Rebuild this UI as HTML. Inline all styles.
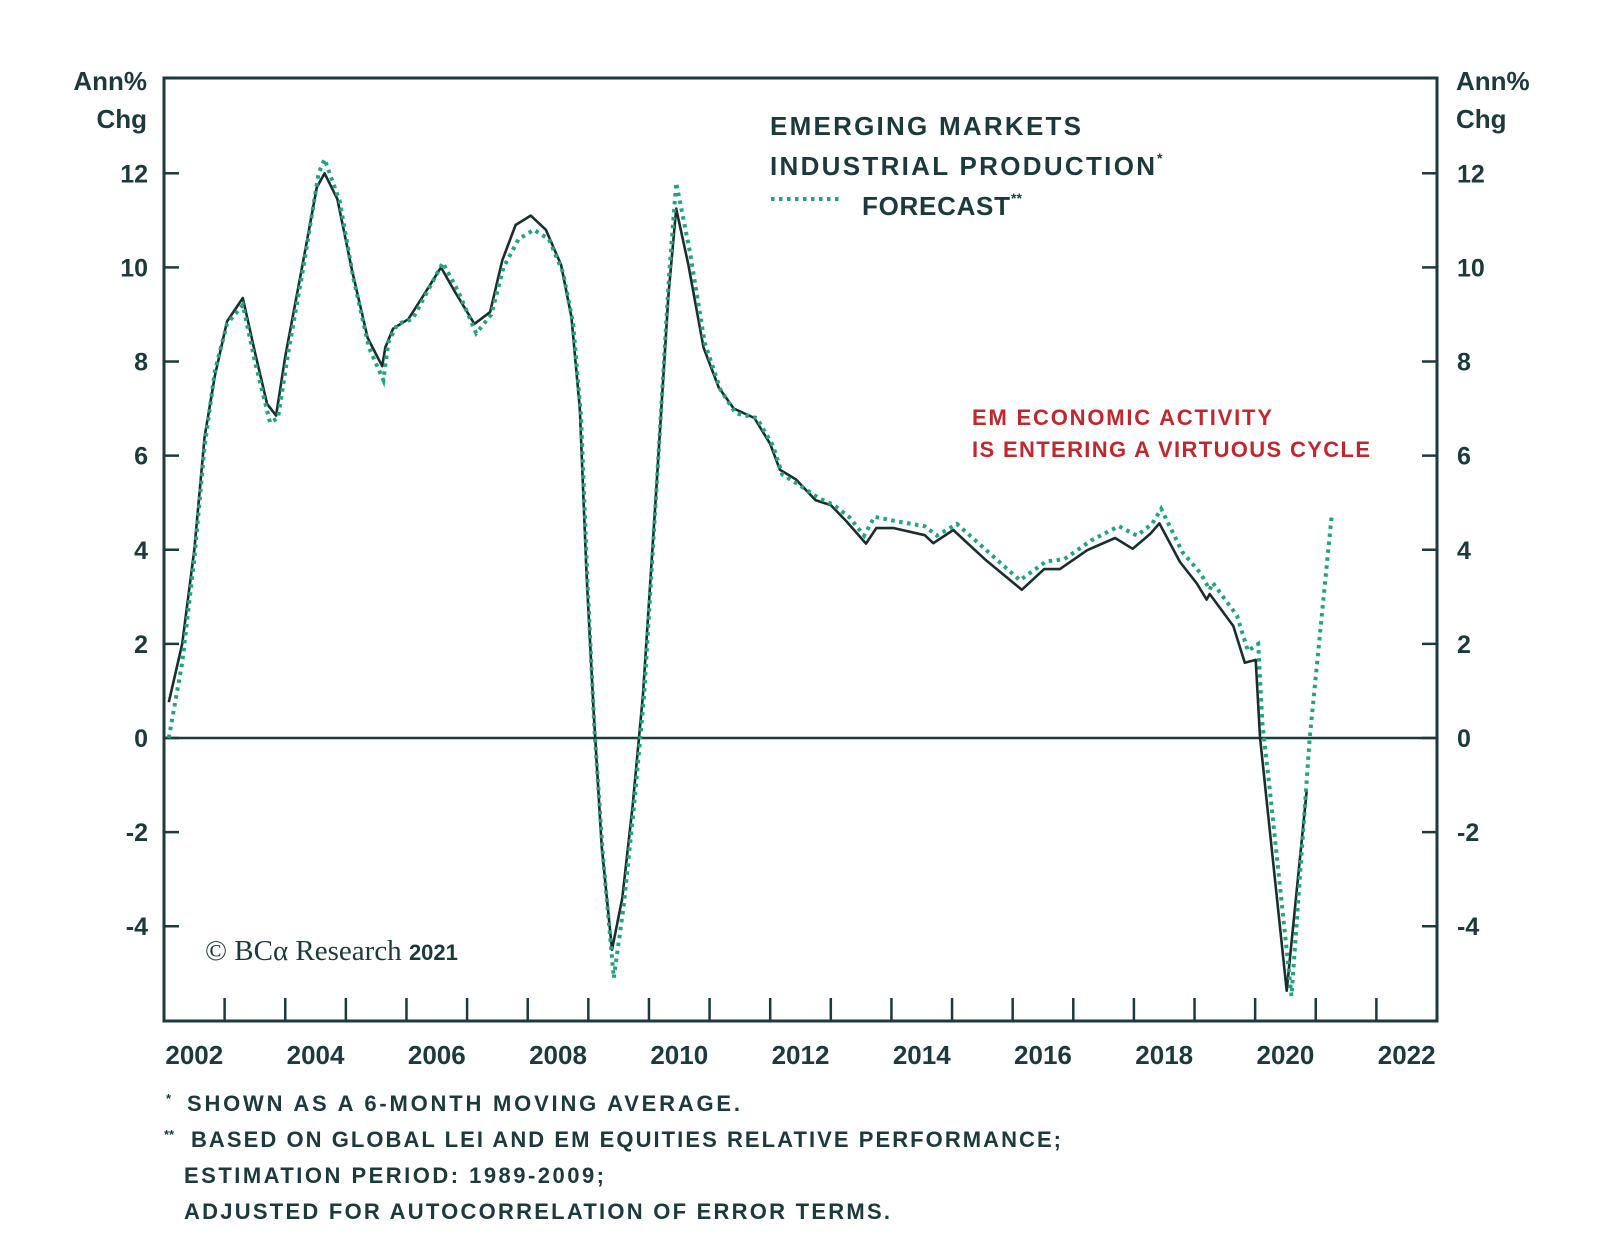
<!DOCTYPE html>
<html><head><meta charset="utf-8"><style>
html,body{margin:0;padding:0;background:#fff;}
svg{display:block;font-family:"Liberation Sans",sans-serif;}
</style></head><body>
<svg id="chart" width="1600" height="1239" viewBox="0 0 1600 1239" xmlns="http://www.w3.org/2000/svg">
<rect width="1600" height="1239" fill="#fff"/>
<g id="axes"></g>
<g id="series"></g>
<g fill="#1b3a3c" font-weight="bold">
<text x="147" y="90" font-size="26" text-anchor="end">Ann%</text>
<text x="147" y="128" font-size="26" text-anchor="end">Chg</text>
<text x="1456" y="90" font-size="26">Ann%</text>
<text x="1456" y="128" font-size="26">Chg</text>
<text x="770" y="135" font-size="26" textLength="311">EMERGING MARKETS</text>
<text x="770" y="175" font-size="26" textLength="385">INDUSTRIAL PRODUCTION</text>
<text x="1157" y="163" font-size="14">*</text>
<text x="862" y="215" font-size="26" textLength="148">FORECAST</text>
<text x="1011" y="203" font-size="14">**</text>
</g>
<line x1="771" y1="199" x2="839" y2="199" stroke="#1fa57f" stroke-width="4" stroke-dasharray="3.5 4.5"/>
<g fill="#c0282d" font-size="22" font-weight="bold">
<text x="972" y="425" textLength="300">EM ECONOMIC ACTIVITY</text>
<text x="972" y="457" textLength="398">IS ENTERING A VIRTUOUS CYCLE</text>
</g>
<text x="205" y="960" font-family="Liberation Serif, serif" font-size="29" fill="#1b3a3c">© BCα Research <tspan font-family="Liberation Sans, sans-serif" font-weight="bold" font-size="22">2021</tspan></text>
<g fill="#1b3a3c" font-size="22" font-weight="bold">
<text x="166" y="1111"><tspan font-size="13" dy="-8">*</tspan><tspan x="187" dy="8" textLength="553">SHOWN AS A 6-MONTH MOVING AVERAGE.</tspan></text>
<text x="164" y="1147"><tspan font-size="13" dy="-8">**</tspan><tspan x="191" dy="8" textLength="870">BASED ON GLOBAL LEI AND EM EQUITIES RELATIVE PERFORMANCE;</tspan></text>
<text x="184" y="1183" textLength="420">ESTIMATION PERIOD: 1989-2009;</text>
<text x="184" y="1219" textLength="706">ADJUSTED FOR AUTOCORRELATION OF ERROR TERMS.</text>
</g>
</svg>
<script>
var actualYears=[2002.08,2002.3,2002.5,2002.67,2002.84,2003.04,2003.3,2003.5,2003.7,2003.85,2004.0,2004.27,2004.52,2004.65,2004.86,2005.1,2005.36,2005.6,2005.65,2005.78,2006.03,2006.28,2006.57,2006.79,2007.12,2007.38,2007.58,2007.8,2008.05,2008.3,2008.55,2008.72,2008.86,2008.97,2009.09,2009.22,2009.39,2009.56,2009.73,2009.9,2010.11,2010.32,2010.45,2010.65,2010.9,2011.15,2011.4,2011.74,2012.0,2012.16,2012.42,2012.75,2013.0,2013.26,2013.58,2013.75,2014.04,2014.55,2014.69,2015.02,2015.54,2016.15,2016.52,2016.78,2017.23,2017.69,2017.98,2018.27,2018.42,2018.76,2019.04,2019.2,2019.25,2019.64,2019.83,2020.01,2020.08,2020.19,2020.52,2020.85];
var actualValues=[0.76,2.0,4.0,6.4,7.7,8.85,9.35,8.2,7.1,6.85,8.1,9.95,11.7,12.0,11.45,9.95,8.5,7.9,8.3,8.7,8.9,9.4,10.0,9.5,8.8,9.05,10.15,10.9,11.1,10.8,10.05,8.95,7.0,3.5,0.5,-2.3,-4.5,-3.4,-1.45,0.9,5.05,9.4,11.25,10.05,8.3,7.45,7.0,6.8,6.25,5.7,5.5,5.05,4.95,4.6,4.13,4.46,4.46,4.31,4.14,4.42,3.8,3.15,3.59,3.59,3.99,4.25,4.02,4.34,4.56,3.74,3.28,2.94,3.06,2.38,1.6,1.66,0.02,-1.34,-5.37,-1.12];
var forecastYears=[2002.08,2002.3,2002.5,2002.67,2002.84,2003.04,2003.3,2003.5,2003.75,2003.88,2004.05,2004.3,2004.55,2004.65,2004.9,2005.12,2005.38,2005.62,2005.7,2005.85,2006.1,2006.35,2006.6,2006.85,2007.15,2007.4,2007.6,2007.85,2008.1,2008.35,2008.58,2008.75,2008.88,2008.99,2009.1,2009.24,2009.42,2009.58,2009.75,2009.92,2010.12,2010.33,2010.45,2010.68,2010.92,2011.18,2011.43,2011.78,2012.05,2012.2,2012.45,2012.8,2013.05,2013.3,2013.55,2013.72,2014.1,2014.55,2014.75,2015.08,2015.6,2016.12,2016.55,2016.85,2017.3,2017.75,2018.05,2018.3,2018.45,2018.8,2019.1,2019.25,2019.3,2019.7,2019.88,2020.05,2020.12,2020.25,2020.6,2020.9,2021.26];
var forecastValues=[0.0,1.6,3.8,6.2,7.8,8.8,9.2,8.0,6.7,6.8,8.2,10.0,12.0,12.3,11.4,9.8,8.3,7.6,8.4,8.8,8.9,9.5,10.1,9.5,8.6,9.0,10.0,10.6,10.8,10.6,9.9,8.8,6.8,3.2,0.2,-2.5,-5.1,-3.6,-1.5,0.9,5.2,9.8,11.8,10.3,8.4,7.4,6.9,6.8,6.2,5.6,5.4,5.1,4.95,4.7,4.3,4.7,4.6,4.5,4.3,4.55,3.95,3.35,3.75,3.8,4.2,4.5,4.3,4.55,4.87,3.95,3.5,3.15,3.3,2.6,1.85,2.0,0.3,-1.2,-5.48,0.0,4.69];
var yTicks=[-4,-2,0,2,4,6,8,10,12];
var xLabels=[2002,2004,2006,2008,2010,2012,2014,2016,2018,2020,2022];

var L=164,R=1437,T=78,B=1021;
function xs(y){return L+(y-2002)*(R-L)/21;}
function ys(v){return 738-v*47.06;}
var NS="http://www.w3.org/2000/svg";
function mk(tag,attrs,parent){var e=document.createElementNS(NS,tag);for(var k in attrs)e.setAttribute(k,attrs[k]);parent.appendChild(e);return e;}
var ax=document.getElementById('axes');
var C="#1b3a3c";
var frame=mk('rect',{x:L,y:T,width:R-L,height:B-T,fill:'none',stroke:C,'stroke-width':3},ax);


var zl=mk('line',{x1:L,x2:R,y1:ys(0),y2:ys(0),stroke:C,'stroke-width':2.5},ax);


yTicks.forEach(function(v){
  var y=ys(v);
  var t1=mk('line',{x1:L,x2:L+15,y1:y,y2:y,stroke:C,'stroke-width':2.5},ax);
  
  
  var t2=mk('line',{x1:R-15,x2:R,y1:y,y2:y,stroke:C,'stroke-width':2.5},ax);
  
  
  var a=mk('text',{x:148,y:y+9,'text-anchor':'end','font-size':25,'font-weight':'bold',fill:C},ax);a.textContent=v;
  
  
  var b=mk('text',{x:1457,y:y+9,'font-size':25,'font-weight':'bold',fill:C},ax);b.textContent=v;
  
  
});
for(var yr=2003;yr<=2022;yr++){
  var tx=mk('line',{x1:xs(yr),x2:xs(yr),y1:B-23,y2:B,stroke:C,'stroke-width':2.5},ax);
  
  
}
xLabels.forEach(function(yr){
  var t=mk('text',{x:xs(yr+0.5),y:1064,'text-anchor':'middle','font-size':26,'font-weight':'bold',fill:C},ax);t.textContent=yr;
  
  
});
var sg=document.getElementById('series');
function pts(xa,va){return xa.map(function(x,i){return xs(x).toFixed(1)+','+ys(va[i]).toFixed(1);}).join(' ');}
var act=mk('polyline',{points:pts(actualYears,actualValues),fill:'none',stroke:'#1a2e2e','stroke-width':2.6,'stroke-linejoin':'round'},sg);


var fc=mk('polyline',{points:pts(forecastYears,forecastValues),fill:'none',stroke:'#1fa57f','stroke-width':4,'stroke-dasharray':'3.5 4.5'},sg);


</script>
</body></html>
